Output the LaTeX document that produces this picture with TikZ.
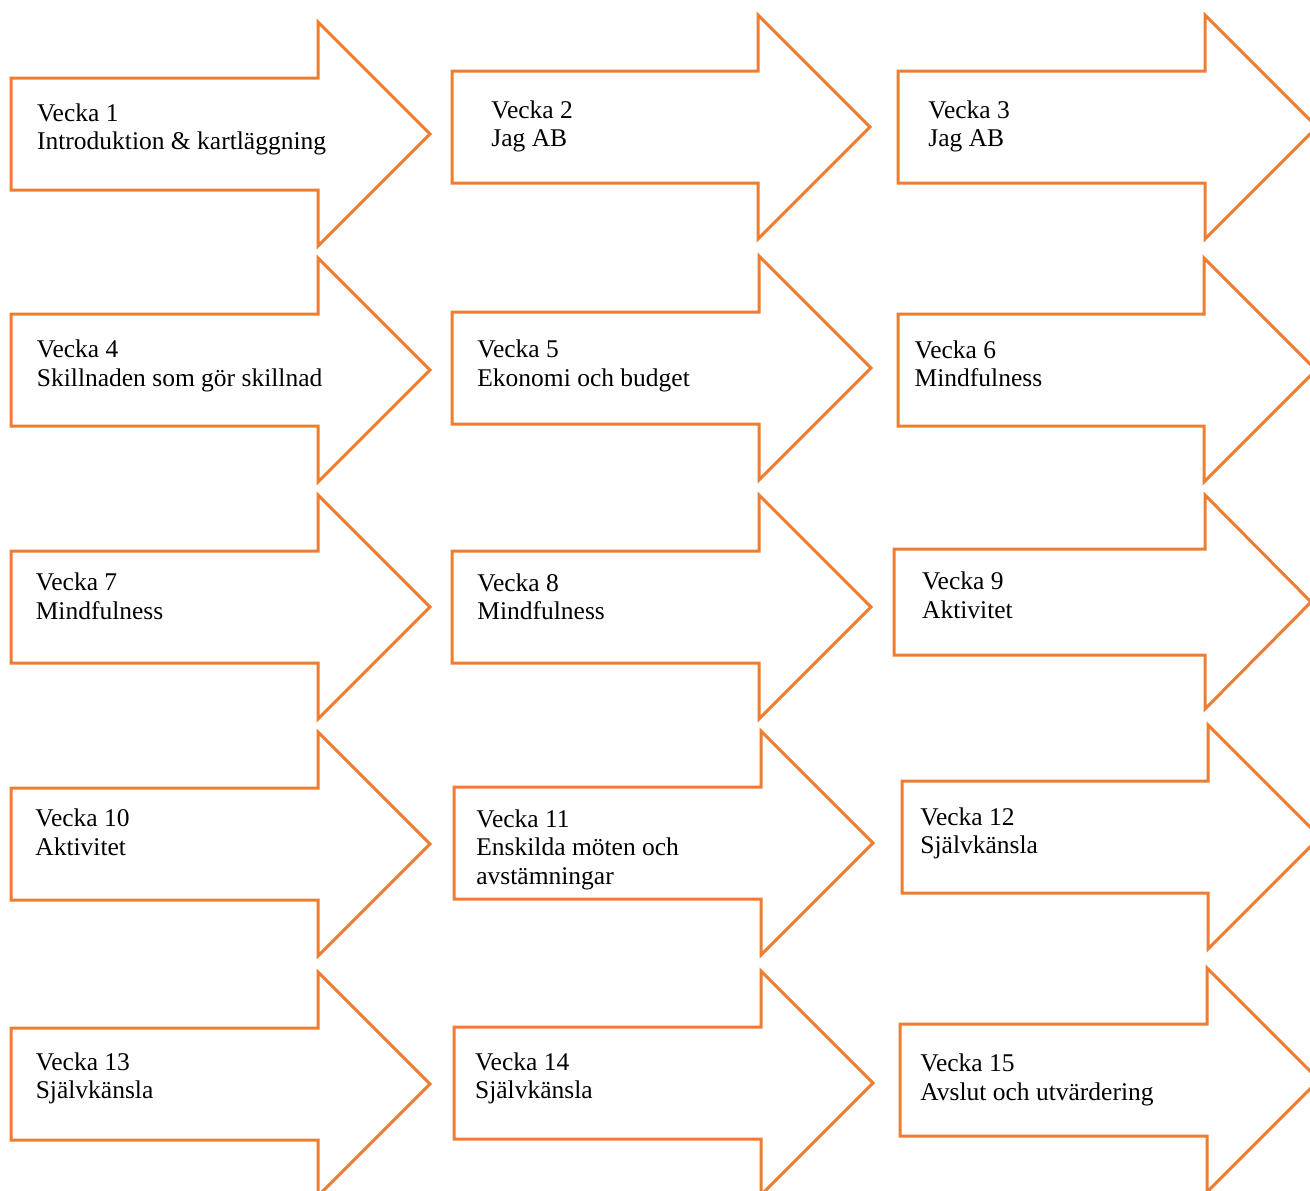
\documentclass[tikz,border=0pt]{standalone}
\usepackage{fontspec}
\setmainfont{Liberation Serif}
\usepackage{xcolor}
\usepackage{tikz}
\definecolor{pilcolor}{RGB}{237,125,49}

\begin{document}
\begin{tikzpicture}[
    x=0.5pt, y=-0.5pt,
    pil/.style={draw=pilcolor, line width=1.5pt, fill=white},
    vecka/.style={anchor=base west, align=left, inner sep=0pt, font=\fontsize{12.75}{14.15}\selectfont}
]
    \clip (0,0) rectangle (1310,1190);
    \fill[white] (0,0) rectangle (1310,1190);

    % rad 1
    \draw[pil] (11,78) -- ++(307,0) -- ++(0,-56) -- ++(112,112) -- ++(-112,112) -- ++(0,-56) -- ++(-307,0) -- cycle;
    \draw[pil] (452,71) -- ++(306,0) -- ++(0,-56) -- ++(112,112) -- ++(-112,112) -- ++(0,-56) -- ++(-306,0) -- cycle;
    \draw[pil] (898,71) -- ++(307,0) -- ++(0,-56) -- ++(112,112) -- ++(-112,112) -- ++(0,-56) -- ++(-307,0) -- cycle;
    \node[vecka] (v1) at (36.7,149.3) {Vecka 1\\Introduktion \& kartläggning};
    \node[vecka] (v2) at (491,146.6) {Vecka 2\\Jag AB};
    \node[vecka] (v3) at (928,146.6) {Vecka 3\\Jag AB};

    % rad 2
    \draw[pil] (11,314) -- ++(307,0) -- ++(0,-56) -- ++(112,112) -- ++(-112,112) -- ++(0,-56) -- ++(-307,0) -- cycle;
    \draw[pil] (452,312) -- ++(307,0) -- ++(0,-56) -- ++(112,112) -- ++(-112,112) -- ++(0,-56) -- ++(-307,0) -- cycle;
    \draw[pil] (898,314) -- ++(306,0) -- ++(0,-56) -- ++(112,112) -- ++(-112,112) -- ++(0,-56) -- ++(-306,0) -- cycle;
    \node[vecka] (v4) at (36.5,386) {Vecka 4\\Skillnaden som gör skillnad};
    \node[vecka] (v5) at (477,386) {Vecka 5\\Ekonomi och budget};
    \node[vecka] (v6) at (914.3,386.6) {Vecka 6\\Mindfulness};

    % rad 3
    \draw[pil] (11,551) -- ++(307,0) -- ++(0,-56) -- ++(112,112) -- ++(-112,112) -- ++(0,-56) -- ++(-307,0) -- cycle;
    \draw[pil] (452,551) -- ++(307,0) -- ++(0,-56) -- ++(112,112) -- ++(-112,112) -- ++(0,-56) -- ++(-307,0) -- cycle;
    \draw[pil] (894,549) -- ++(311,0) -- ++(0,-54) -- ++(106,107) -- ++(-106,107) -- ++(0,-54) -- ++(-311,0) -- cycle;
    \node[vecka] (v7) at (35.4,619) {Vecka 7\\Mindfulness};
    \node[vecka] (v8) at (477,619.6) {Vecka 8\\Mindfulness};
    \node[vecka] (v9) at (921.7,618) {Vecka 9\\Aktivitet};

    % rad 4
    \draw[pil] (11,788) -- ++(307,0) -- ++(0,-56) -- ++(112,112) -- ++(-112,112) -- ++(0,-56) -- ++(-307,0) -- cycle;
    \draw[pil] (454,787) -- ++(307,0) -- ++(0,-56) -- ++(112,112) -- ++(-112,112) -- ++(0,-56) -- ++(-307,0) -- cycle;
    \draw[pil] (902,781) -- ++(306,0) -- ++(0,-56) -- ++(112,112) -- ++(-112,112) -- ++(0,-56) -- ++(-306,0) -- cycle;
    \node[vecka] (v10) at (35,855) {Vecka 10\\Aktivitet};
    \node[vecka] (v11) at (476,884) {Vecka 11\\Enskilda möten och\\avstämningar};
    \node[vecka] (v12) at (920,853.6) {Vecka 12\\Självkänsla};

    % rad 5
    \draw[pil] (11,1028) -- ++(307,0) -- ++(0,-56) -- ++(112,112) -- ++(-112,112) -- ++(0,-56) -- ++(-307,0) -- cycle;
    \draw[pil] (454,1027) -- ++(307,0) -- ++(0,-56) -- ++(112,112) -- ++(-112,112) -- ++(0,-56) -- ++(-307,0) -- cycle;
    \draw[pil] (900,1024) -- ++(307,0) -- ++(0,-56) -- ++(112,112) -- ++(-112,112) -- ++(0,-56) -- ++(-307,0) -- cycle;
    \node[vecka] (v13) at (35.4,1098.3) {Vecka 13\\Självkänsla};
    \node[vecka] (v14) at (474.7,1098.3) {Vecka 14\\Självkänsla};
    \node[vecka] (v15) at (920,1100) {Vecka 15\\Avslut och utvärdering};
\end{tikzpicture}
\end{document}
